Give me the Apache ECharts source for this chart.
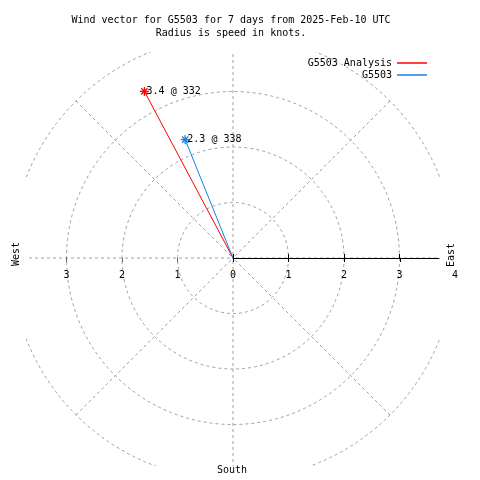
<!DOCTYPE html>
<html><head><meta charset="utf-8">
<script src="https://cdn.jsdelivr.net/npm/echarts@6/dist/echarts.min.js"></script>
<style>html,body{margin:0;padding:0;background:#fff}#c{width:480px;height:480px}</style>
</head><body><div id="c"></div>
<script>
const seriesNames = ['G5503 Analysis', 'G5503'];
const seriesColors = ['#ff0000', '#1a80e0'];
const speeds = [3.4, 2.3];
const directions = [332, 338];
const radiusTicks = [0, 1, 2, 3, 4];
const titleLines = ['Wind vector for G5503 for 7 days from 2025-Feb-10 UTC', 'Radius is speed in knots.'];

const FONT = 'DejaVu Sans Mono';
const CX = 233, CY = 258, R = 222, RCLIP = 206;
const GRID = '#a0a0a0';
const star = 'path://M0,5L10,5M5,0L5,10M1.5,1.5L8.5,8.5M8.5,1.5L1.5,8.5';

const hiddenAngle = (idx, start) => ({
  polarIndex: idx, type: 'value', min: 90, max: 450, startAngle: start, clockwise: true,
  axisLine: {show: false}, axisTick: {show: false}, axisLabel: {show: false}, splitLine: {show: false}
});

const chart = echarts.init(document.getElementById('c'), null, {renderer: 'canvas'});
chart.setOption({
  animation: false,
  backgroundColor: '#fff',
  textStyle: {fontFamily: FONT},
  title: [
    {text: titleLines.join('\n'), left: 231, top: 14, padding: 0, textAlign: 'center', z: 10,
     textStyle: {fontFamily: FONT, fontSize: 10, fontWeight: 'normal', color: '#000', lineHeight: 13}},
    {text: 'South', left: 232, top: 465, padding: 0, textAlign: 'center', z: 10,
     textStyle: {fontFamily: FONT, fontSize: 10, fontWeight: 'normal', color: '#000'}}
  ],
  legend: {
    orient: 'vertical', right: 53, top: 57, padding: 0, itemGap: 0, align: 'right',
    icon: 'rect', itemWidth: 30, itemHeight: 1.5, z: 10,
    itemStyle: {borderWidth: 0},
    textStyle: {fontFamily: FONT, fontSize: 10, color: '#000', lineHeight: 12},
    data: seriesNames
  },
  polar: [
    {center: [CX, CY], radius: R},
    {center: [CX, CY], radius: R},
    {center: [CX, CY], radius: RCLIP},
    {center: [CX, CY], radius: R}
  ],
  angleAxis: [
    {polarIndex: 0, type: 'value', min: 90, max: 450, interval: 45, startAngle: 0, clockwise: true, z: 0,
     axisLine: {show: false}, axisTick: {show: false}, axisLabel: {show: false},
     splitLine: {show: true, lineStyle: {color: GRID, type: [3, 3], width: 1}}},
    hiddenAngle(1, 0),
    hiddenAngle(2, 0),
    hiddenAngle(3, 180)
  ],
  radiusAxis: [
    {polarIndex: 0, type: 'value', min: 0, max: 4, interval: 1, z: 0,
     axisLine: {show: false}, axisTick: {show: false}, axisLabel: {show: false},
     splitLine: {show: true, lineStyle: {color: GRID, type: [3, 3], width: 1}}},
    {polarIndex: 1, type: 'value', min: 0, max: 4, interval: 1, z: 3,
     axisLine: {show: false},
     axisTick: {show: true, length: 4, lineStyle: {color: '#000'}, customValues: radiusTicks.slice(0, 4)},
     axisLabel: {show: true, color: '#000', fontFamily: FONT, fontSize: 10, margin: -22,
       formatter: v => radiusTicks.includes(v) ? String(v) : ''},
     splitLine: {show: false}},
    {polarIndex: 2, type: 'value', min: 0, max: 3.7, interval: 1, z: 3,
     axisLine: {show: true, lineStyle: {color: '#000', width: 1}},
     axisTick: {show: true, length: -4, lineStyle: {color: '#000'}, customValues: radiusTicks.slice(0, 4)},
     axisLabel: {show: false}, splitLine: {show: false}},
    {polarIndex: 3, type: 'value', min: 0, max: 4, interval: 1, z: 3,
     axisLine: {show: false},
     axisTick: {show: true, length: 4, lineStyle: {color: '#666'}, customValues: radiusTicks.slice(1, 4)},
     axisLabel: {show: true, color: '#000', fontFamily: FONT, fontSize: 10, margin: 12,
       formatter: v => (v > 0 && v < 4) ? String(v) : ''},
     splitLine: {show: false}}
  ],
  graphic: [
    {type: 'rect', z: 1, silent: true, shape: {x: 0, y: 0, width: 480, height: 52}, style: {fill: '#fff'}},
    {type: 'rect', z: 1, silent: true, shape: {x: 0, y: 466, width: 480, height: 14}, style: {fill: '#fff'}},
    {type: 'rect', z: 1, silent: true, shape: {x: 0, y: 0, width: 26, height: 480}, style: {fill: '#fff'}},
    {type: 'rect', z: 1, silent: true, shape: {x: 440, y: 0, width: 40, height: 480}, style: {fill: '#fff'}},
    {type: 'text', z: 10, x: 16, y: 254, rotation: Math.PI / 2,
     style: {text: 'West', font: '10px ' + FONT, fill: '#000', align: 'center', verticalAlign: 'middle'}},
    {type: 'text', z: 10, x: 451, y: 255, rotation: Math.PI / 2,
     style: {text: 'East', font: '10px ' + FONT, fill: '#000', align: 'center', verticalAlign: 'middle'}}
  ],
  series: seriesNames.map((name, i) => ({
    name, type: 'line', coordinateSystem: 'polar', polarIndex: 1, z: 5,
    color: seriesColors[i],
    lineStyle: {color: seriesColors[i], width: 1},
    itemStyle: {color: seriesColors[i], borderColor: seriesColors[i], borderWidth: 1.3},
    symbol: star, symbolSize: 9, showSymbol: true,
    label: {show: false},
    data: [
      {value: [0, directions[i]], symbol: 'none'},
      {value: [speeds[i], directions[i]],
       label: {show: true, position: 'right', distance: -3, color: '#000', fontFamily: FONT, fontSize: 10,
         formatter: speeds[i] + ' @ ' + directions[i]}}
    ]
  }))
});
</script></body></html>
